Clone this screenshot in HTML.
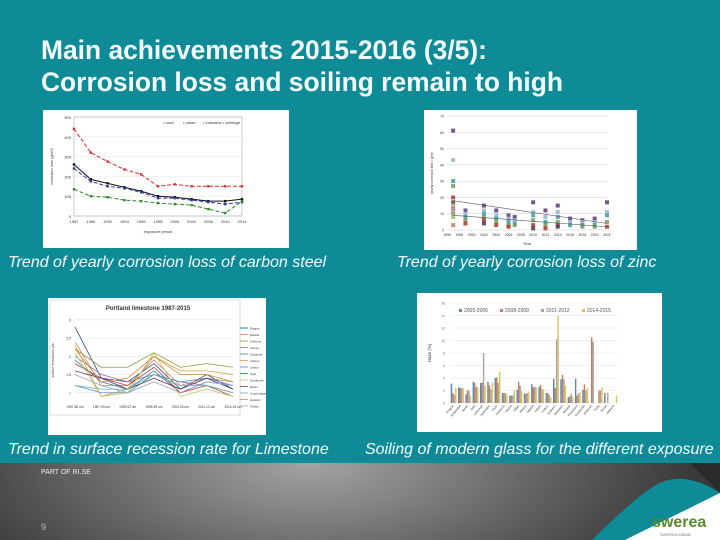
<!DOCTYPE html>
<html><head><meta charset="utf-8">
<style>
html,body{margin:0;padding:0}
body{width:720px;height:540px;position:relative;overflow:hidden;background:#0f8b98;font-family:"Liberation Sans",sans-serif}
.title{position:absolute;left:41px;top:34px;color:#f2fbfc;font-size:26.4px;font-weight:bold;line-height:32px;white-space:nowrap}
.img{position:absolute;background:#fff}
.cap{position:absolute;color:#f4fbfc;font-style:italic;font-size:16px;white-space:nowrap}
.band{position:absolute;left:0;top:463px;width:720px;height:77px;background:radial-gradient(ellipse 380px 160px at 310px 0px,#a3a3a3 0%,#7a7a7a 40%,#3a3a3a 100%)}
</style></head>
<body>
<div class="title">Main achievements 2015-2016 (3/5):<br>Corrosion loss and soiling remain to high</div>

<svg class="img" id="c1" style="left:43px;top:110px" width="246" height="138"></svg>
<svg class="img" id="c2" style="left:424px;top:110px" width="213" height="140"></svg>
<svg class="img" id="c3" style="left:48px;top:298px" width="218" height="137"></svg>
<svg class="img" id="c4" style="left:417px;top:293px" width="245" height="139"></svg>

<div class="cap" style="left:8px;top:254px">Trend of yearly corrosion loss of carbon steel</div>
<div class="cap" style="left:397px;top:254px">Trend of yearly corrosion loss of zinc</div>
<div class="cap" style="left:8px;top:441px">Trend in surface recession rate for Limestone</div>
<div class="cap" style="left:365px;top:441px">Soiling of modern glass for the different exposure</div>

<div class="band"></div>
<div style="position:absolute;left:41px;top:469px;color:#eee;font-size:7px">PART OF RI.SE</div>
<div style="position:absolute;left:41px;top:522px;color:#bbb;font-size:9px">9</div>
<svg style="position:absolute;left:580px;top:463px" width="140" height="77">
<polygon points="140,0 110,0 140,30" fill="#2a2a2a"/>
<path d="M12,77 C40,50 65,25 85,18 C105,12 125,20 140,30 L140,77 Z" fill="#0f8b98"/>
<path d="M45,77 C75,62 110,45 140,30 L140,77 Z" fill="#ffffff"/>
<text x="72" y="64" font-size="16" font-weight="bold" fill="#5a8a2a" font-family="Liberation Sans,sans-serif">swerea</text>
<text x="80" y="73" font-size="4" fill="#777" font-family="Liberation Sans,sans-serif">SWEREA KIMAB</text>
</svg>

<script>
// Chart 1: carbon steel
const c1Cats=['1987','1990','1992','1994','1996','1998','2000','2002','2006','2010','2014'];
const c1Industrial=[440,320,275,235,210,150,160,150,150,150,150];
const c1Urban=[260,185,165,145,125,100,95,85,75,75,85];
const c1Rural=[240,175,150,140,120,90,90,80,70,60,70];
const c1Average=[135,100,95,80,75,65,60,55,35,15,75];
const c1Ticks=[0,100,200,300,400,500];
// Chart 2: zinc
const c2Years=[1997,1999,2002,2004,2006,2007,2010,2012,2014,2016,2018,2020,2022];
const c2Values=[[61,43,30,27,20,17,15,13,12,10,8,3],[12,10,8,6,4],[15,12,10,8,6,4],[12,9,7,5,3],[9,7,5,3,2],[8,6,4,3],[17,11,9,6,3,1],[12,8,5,3,1],[15,11,8,5,3,2],[7,5,3],[6,5,3,2],[7,5,3,2],[17,11,9,5,2]];
const c2Ticks=[0,10,20,30,40,50,60,70];
const c2XTicks=[1996,1998,2000,2002,2004,2006,2008,2010,2012,2014,2016,2018,2020,2022];
// Chart 3: limestone
const c3Cats=['1987-88 um','1987-93 um','1992-93 um','1995-99 um','2003-05 um','2011-12 um','2014-15 um'];
const c3Sites=['Prague','Madrid','Kothens','Venice','Casaccia','Athens','Lisbon','Oslo','Stockholm','Berlin','Copenhagen','Helsinki','Toledo'];
const c3Values=[[2.8,1.4,1.3,1.8,1.1,1.5,1.1],[2.4,1.2,1.2,1.9,1.2,1.4,1.3],[2.2,1.7,1.7,2.1,1.7,1.8,1.7],[2.0,1.5,1.3,1.5,1.3,1.2,1.0],[1.9,1.3,1.1,1.6,1.0,1.3,1.2],[2.3,0.9,1.1,2.0,1.6,1.6,1.5],[1.2,1.0,1.0,1.5,1.3,1.4,1.2],[1.8,1.4,1.2,1.7,1.0,1.2,0.9],[2.1,0.9,1.0,2.1,0.9,1.1,0.9],[1.6,1.4,1.1,1.4,1.1,1.4,1.1],[1.2,1.1,1.1,1.5,1.2,1.2,1.0],[2.2,1.3,1.4,2.0,1.5,1.5,1.3],[1.5,1.2,1.0,1.3,1.0,1.3,1.2]];
const c3Ticks=[1,1.5,2,2.5,3];
// Chart 4: glass soiling
const c4Cats=['Prague','Kasperske','Berlin','Oslo','Lahemaa','Aspvreten','Paris','Casaccia','Venice','Milan','Athens','Madrid','Toledo','Lisbon','Kathens','Katowice','Bottrop','Chaumont','Stockholm','Birkenes','Sofia','Rome','Valencia'];
const c4S1=[3.1,2.5,1.4,3.4,3.2,3.4,4.0,1.6,1.2,2.1,1.5,3.0,2.6,1.6,3.9,3.8,0.9,3.9,2.1,0,0,1.6,0];
const c4S2=[1.6,2.4,2.0,3.2,3.3,2.8,4.1,1.6,1.2,3.4,1.5,2.5,2.9,1.6,2.4,4.5,1.1,1.2,3.0,10.5,2.0,0,0];
const c4S3=[1.3,2.4,2.0,2.6,8.0,2.2,3.2,1.6,1.2,2.8,1.6,2.6,2.2,1.3,10.2,3.8,1.5,1.6,2.0,9.8,2.0,1.6,0];
const c4S4=[2.4,2.4,1.2,2.5,2.8,3.3,5.0,1.3,2.0,1.9,1.7,2.5,2.2,0.9,14.0,2.8,1.0,1.7,2.4,0,2.5,0,1.2];
const c4Series=['2005-2006','2008-2009','2011-2012','2014-2015'];
const c4Ticks=[0,2,4,6,8,10,12,14,16];

const NS='http://www.w3.org/2000/svg';
function mk(p,t,a){const e=document.createElementNS(NS,t);for(const k in a)e.setAttribute(k,a[k]);p.appendChild(e);return e;}
function txt(p,x,y,s,sz,extra){const e=mk(p,'text',Object.assign({x:x,y:y,'font-size':sz,fill:'#333','font-family':'Liberation Sans,sans-serif'},extra||{}));e.textContent=s;return e;}

// ---- Chart 1
(function(){
const s=document.getElementById('c1');
const L=31,R=199,T=7,B=106;
const xS=i=>L+(R-L)*i/(c1Cats.length-1);
const yS=v=>B-(B-T)*v/500;
c1Ticks.forEach(t=>{const g=mk(s,'line',{x1:L,x2:R,y1:yS(t),y2:yS(t),stroke:'#ccc','stroke-width':0.5,'stroke-dasharray':'1,1'});

txt(s,L-3,yS(t)+2,String(t),4,{'text-anchor':'end'});});
mk(s,'rect',{x:L,y:T,width:R-L,height:B-T,fill:'none',stroke:'#999','stroke-width':0.5});
c1Cats.forEach((c,i)=>txt(s,xS(i),B+7,c,4,{'text-anchor':'middle'}));
txt(s,(L+R)/2,B+17,'exposure period',4,{'text-anchor':'middle'});
txt(s,10,(T+B)/2,'corrosion loss (g/m²)',4,{'text-anchor':'middle',transform:'rotate(-90 10 '+(T+B)/2+')'});
[[c1Industrial,'#d03030'],[c1Urban,'#111'],[c1Rural,'#2a3a9a'],[c1Average,'#2a8a2a']].forEach(([d,c],k)=>{
const pts=d.map((v,i)=>xS(i)+','+yS(v)).join(' ');
const l=mk(s,'polyline',{points:pts,fill:'none',stroke:c,'stroke-width':1,'stroke-dasharray':k==1?'':'4,2'});

d.forEach((v,i)=>{const p=mk(s,'rect',{x:xS(i)-1.2,y:yS(v)-1.2,width:2.4,height:2.4,fill:c});
});
});
['rural','urban','industrial','average'].forEach((n,i)=>txt(s,120+i*20,14,'• '+n,4));
})();

// ---- Chart 2
(function(){
const s=document.getElementById('c2');
const L=23,R=183,T=6,B=120;
const xS=y=>L+(R-L)*(y-1996)/(2022-1996);
const yS=v=>B-(B-T)*v/70;
c2Ticks.forEach(t=>{const g=mk(s,'line',{x1:L,x2:R,y1:yS(t),y2:yS(t),stroke:'#ccc','stroke-width':0.5});

txt(s,L-3,yS(t)+1.5,String(t),3.5,{'text-anchor':'end'});});
c2XTicks.forEach(y=>txt(s,xS(y),B+6,String(y),3.5,{'text-anchor':'middle'}));
txt(s,(L+R)/2,B+15,'Year',4,{'text-anchor':'middle'});
txt(s,9,(T+B)/2,'yearly corrosion loss / g/m²',3.5,{'text-anchor':'middle',transform:'rotate(-90 9 '+(T+B)/2+')'});
const cols=['#5a3a7a','#9ab0d0','#3aa0a0','#7a9a5a','#b03030','#444','#c0a070','#9070b0','#d09090','#70a070','#a0c070','#c08050'];
c2Values.forEach((vals,i)=>vals.forEach((v,j)=>{
const p=mk(s,'rect',{x:xS(c2Years[i])-2,y:yS(v)-2,width:4,height:4,fill:cols[j%cols.length],opacity:0.85});
}));
mk(s,'line',{x1:xS(1997),y1:yS(18),x2:xS(2022),y2:yS(4),stroke:'#555','stroke-width':0.6});
mk(s,'line',{x1:xS(1997),y1:yS(9),x2:xS(2022),y2:yS(2),stroke:'#555','stroke-width':0.6});
})();

// ---- Chart 3
(function(){
const s=document.getElementById('c3');
const L=27,R=185,T=20,B=105,lo=0.72,hi=3.05;
const xS=i=>L+(R-L)*i/(c3Cats.length-1);
const yS=v=>B-(B-T)*(v-lo)/(hi-lo);
txt(s,100,12,'Portland limestone 1987-2015',6,{'text-anchor':'middle','font-weight':'bold'});
c3Ticks.forEach(t=>{const g=mk(s,'line',{x1:L,x2:R,y1:yS(t),y2:yS(t),stroke:'#ddd','stroke-width':0.5});

txt(s,L-4,yS(t)+1.5,String(t),3.5,{'text-anchor':'end'});});
c3Cats.forEach((c,i)=>txt(s,xS(i),B+5,c,3.2,{'text-anchor':'middle'}));
txt(s,6,(T+B)/2,'surface recession in µm',3.2,{'text-anchor':'middle',transform:'rotate(-90 6 '+(T+B)/2+')'});
mk(s,'rect',{x:2,y:2,width:190,height:115,fill:'none',stroke:'#bbb','stroke-width':0.5});
const cols=['#2a4a8a','#d08060','#8a9a3a','#8a70a0','#2a8aa0','#d0a040','#4a90c0','#b04040','#c0c060','#6a3a6a','#60b0b0','#d09040','#a0a0d0'];
c3Values.forEach((d,k)=>{
const l=mk(s,'polyline',{points:d.map((v,i)=>xS(i)+','+yS(v)).join(' '),fill:'none',stroke:cols[k],'stroke-width':0.8});

mk(s,'line',{x1:192,x2:200,y1:30+k*6.5,y2:30+k*6.5,stroke:cols[k],'stroke-width':0.8});
txt(s,202,31.5+k*6.5,c3Sites[k],3);
});
})();

// ---- Chart 4
(function(){
const s=document.getElementById('c4');
const L=33,R=201,T=10,B=110;
const n=c4Cats.length,bw=(R-L)/n;
const yS=v=>B-(B-T)*v/16;
c4Ticks.forEach(t=>{const g=mk(s,'line',{x1:L,x2:R,y1:yS(t),y2:yS(t),stroke:'#e4e4e4','stroke-width':0.5});

txt(s,L-5,yS(t)+1.5,String(t),3.5,{'text-anchor':'end',fill:'#777'});});
txt(s,14,(T+B)/2,'Haze (%)',4.5,{'text-anchor':'middle',transform:'rotate(-90 14 '+(T+B)/2+')'});
const cols=['#5b87b5','#c0805a','#a6a6a6','#e3c155'];
[c4S1,c4S2,c4S3,c4S4].forEach((d,k)=>d.forEach((v,i)=>{
const b=mk(s,'rect',{x:L+i*bw+bw*0.1+k*bw*0.2,y:yS(v),width:bw*0.2,height:B-yS(v),fill:cols[k]});
}));
c4Cats.forEach((c,i)=>{const x=L+i*bw+bw/2;txt(s,x,B+3,c,3,{'text-anchor':'end',transform:'rotate(-50 '+x+' '+(B+3)+')'});});
c4Series.forEach((n2,k)=>{mk(s,'rect',{x:42+k*41,y:16,width:3,height:3,fill:cols[k]});txt(s,47+k*41,19,n2,5,{fill:'#555'});});
})();
</script>
</body></html>
